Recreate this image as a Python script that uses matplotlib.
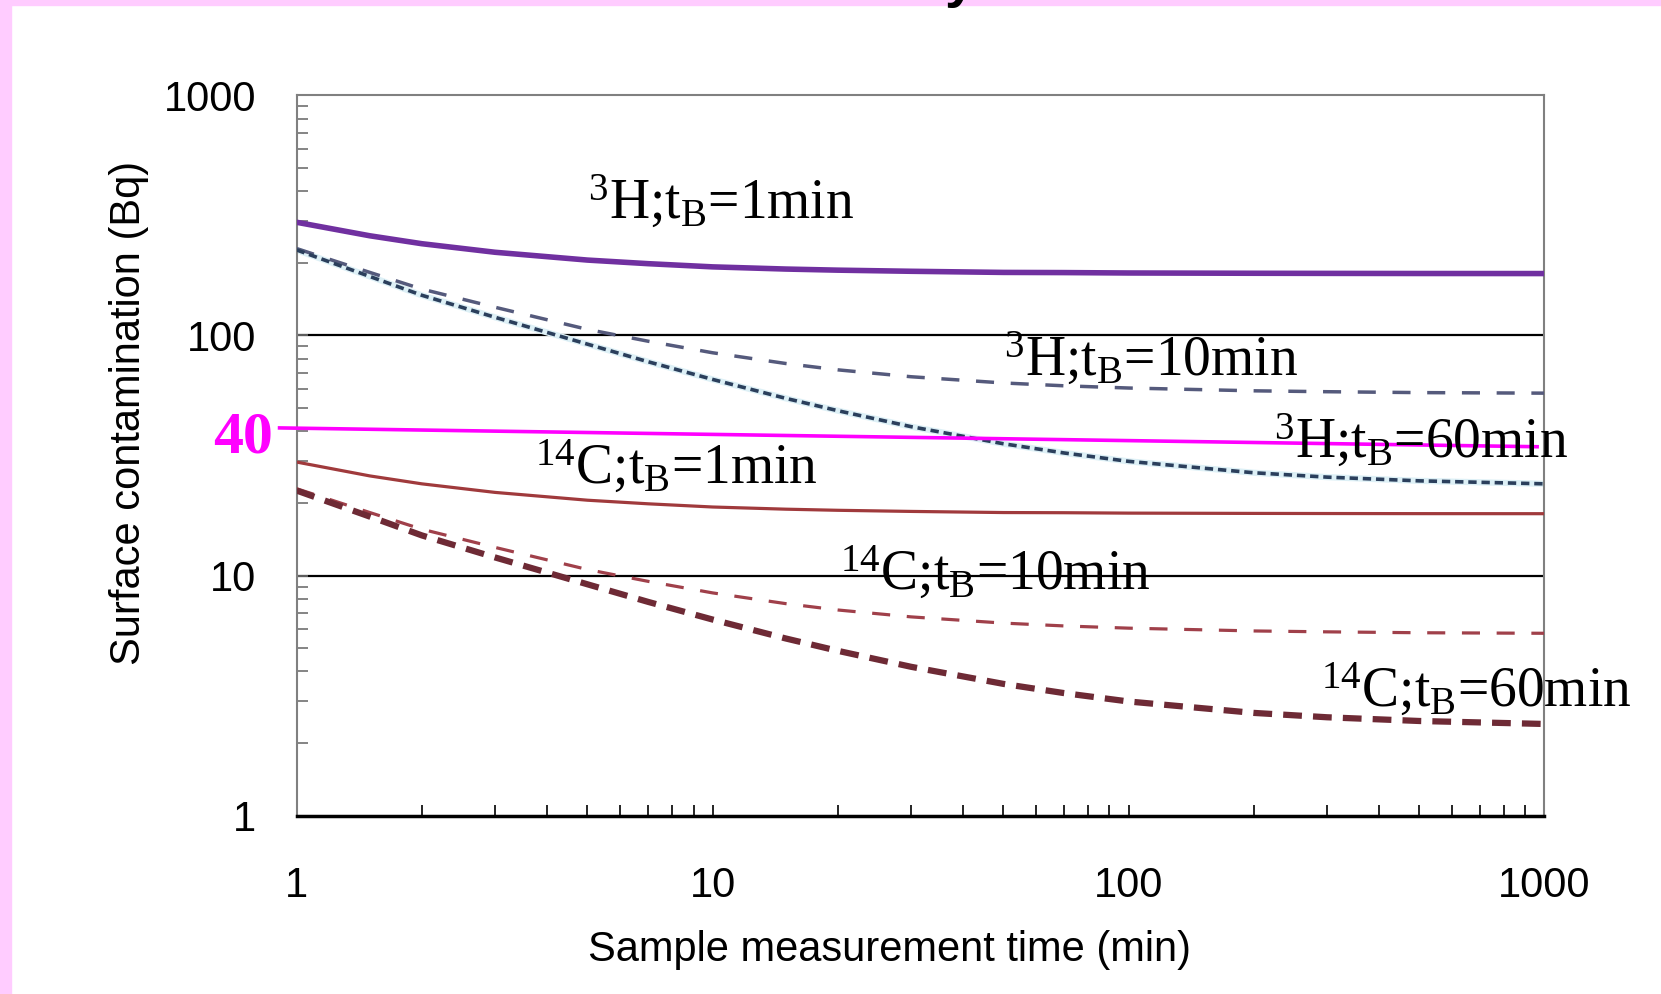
import matplotlib
matplotlib.use("Agg")
import matplotlib.pyplot as plt
from matplotlib.patches import Rectangle
from matplotlib.ticker import LogLocator, NullFormatter

# sample measurement time (min)
ts = [1, 1.5, 2, 3, 5, 7, 10, 15, 20, 30, 50, 70, 100, 200, 300, 500, 1000]

# surface contamination (Bq)
h3_tb1 = [296, 260, 241, 222, 206, 199, 193, 189, 187, 185, 183, 182.7, 182, 181.5, 181.3, 181.1, 181]
h3_tb10 = [230, 183, 156, 131, 106, 94.6, 84.7, 76.4, 71.9, 67.3, 63.4, 61.7, 60.4, 58.8, 58.3, 57.8, 57.5]
h3_tb60 = [227, 176, 147, 119, 92, 77.7, 65.6, 54.7, 48.6, 41.7, 35.4, 32.4, 29.9, 26.8, 25.7, 24.8, 24.1]
c14_tb1 = [29.7, 26.0, 24.1, 22.2, 20.6, 19.9, 19.3, 18.9, 18.7, 18.5, 18.3, 18.27, 18.2, 18.15, 18.13, 18.11, 18.1]
c14_tb10 = [23.0, 18.3, 15.6, 13.1, 10.6, 9.46, 8.47, 7.64, 7.19, 6.73, 6.34, 6.17, 6.04, 5.88, 5.83, 5.78, 5.75]
c14_tb60 = [22.6, 17.6, 14.7, 11.9, 9.2, 7.77, 6.56, 5.47, 4.86, 4.17, 3.54, 3.24, 2.99, 2.68, 2.57, 2.48, 2.41]

labels = [r"$^{3}$H;t$_{\mathrm{B}}$=1min", r"$^{3}$H;t$_{\mathrm{B}}$=10min", r"$^{3}$H;t$_{\mathrm{B}}$=60min",
          r"$^{14}$C;t$_{\mathrm{B}}$=1min", r"$^{14}$C;t$_{\mathrm{B}}$=10min", r"$^{14}$C;t$_{\mathrm{B}}$=60min"]

x_ticks = [1, 10, 100, 1000]
y_ticks = [1, 10, 100, 1000]
grid_levels = [10, 100]

# hand drawn 40 Bq marker line
limit_x = [0.91, 960]
limit_y = [41.2, 34.4]
limit_label = "40"

plt.rcParams["font.family"] = ["Liberation Sans", "DejaVu Sans"]
plt.rcParams["mathtext.fontset"] = "custom"
plt.rcParams["mathtext.rm"] = "Liberation Serif"
plt.rcParams["mathtext.it"] = "Liberation Serif:italic"
plt.rcParams["mathtext.bf"] = "Liberation Serif:bold"
plt.rcParams["lines.scale_dashes"] = False

fig = plt.figure(figsize=(16.61, 9.94), dpi=100)
fig.patches.append(Rectangle((0, 0), 11 / 1661, 1, transform=fig.transFigure, color="#ffccff", zorder=0))
fig.patches.append(Rectangle((0, 1 - 5 / 994), 1, 5 / 994, transform=fig.transFigure, color="#ffccff", zorder=0))
# bottom of the cut-off title glyph above the chart
fig.text(0.578, 1 + 4 / 994, "y", fontsize=40, fontweight="bold", ha="center", va="baseline")

ax = fig.add_axes([0.17857, 0.17937, 0.75129, 0.72475])
ax.set_xscale("log")
ax.set_yscale("log")
ax.set_xlim(1, 1000)
ax.set_ylim(1, 1000)

ax.hlines(grid_levels, 1, 1000, color="black", lw=1.6, zorder=1)

# curves
ax.plot(ts, h3_tb1, color="#7030a0", lw=4, solid_capstyle="butt", zorder=3)
ax.plot(ts, h3_tb10, color="#555a7c", lw=2.5, dashes=(13, 12), zorder=3)
ax.plot(ts, h3_tb60, color="#ddf0f6", lw=4.5, zorder=2)
ax.plot(ts, h3_tb60, color="#2b3f5c", lw=2.6, dashes=(6, 3.5), zorder=3)
ax.plot(ts, c14_tb1, color="#a03a3c", lw=2.3, zorder=3)
ax.plot(ts, c14_tb10, color="#a0404a", lw=2.3, dashes=(13, 12), zorder=3)
ax.plot(ts, c14_tb60, color="#6e2a35", lw=4.5, dashes=(13.5, 8), zorder=3)

ax.plot(limit_x, limit_y, color="#ff00ff", lw=2.6, clip_on=False, zorder=4)
fig.text(273 / 1661, 1 - 453 / 994, limit_label, color="#ff00ff", fontsize=43, fontweight="bold",
         family="Liberation Serif", ha="right", va="baseline")

label_pos = [(0.2335, 0.828), (0.567, 0.610), (0.783, 0.4965),
             (0.191, 0.4604), (0.4355, 0.3133), (0.821, 0.151)]
for txt, (lx, ly) in zip(labels, label_pos):
    ax.text(lx, ly, txt, transform=ax.transAxes, fontsize=40, family="Liberation Serif",
            ha="left", va="baseline", zorder=5)

# axes styling
for side in ["top", "right", "left"]:
    ax.spines[side].set_color("#808080")
    ax.spines[side].set_linewidth(1.5)
ax.spines["bottom"].set_color("black")
ax.spines["bottom"].set_linewidth(2.5)

ax.set_xticks(x_ticks)
ax.set_xticklabels([str(v) for v in x_ticks])
ax.set_yticks(y_ticks)
ax.set_yticklabels([str(v) for v in y_ticks])
ax.xaxis.set_minor_locator(LogLocator(base=10, subs=range(2, 10)))
ax.yaxis.set_minor_locator(LogLocator(base=10, subs=range(2, 10)))
ax.xaxis.set_minor_formatter(NullFormatter())
ax.yaxis.set_minor_formatter(NullFormatter())
ax.tick_params(axis="both", which="both", direction="in", length=8, width=1.2, labelsize=30)
ax.tick_params(axis="y", which="both", colors="#707070", labelcolor="black", pad=29)
ax.tick_params(axis="x", which="both", colors="black", pad=36)

ax.set_xlabel("Sample measurement time (min)", fontsize=30, va="center")
ax.xaxis.set_label_coords(0.4755, -0.186)
ax.set_ylabel("Surface contamination (Bq)", fontsize=30, va="center")
ax.yaxis.set_label_coords(-0.1343, 0.559)

fig.savefig("out.png", dpi=100)
